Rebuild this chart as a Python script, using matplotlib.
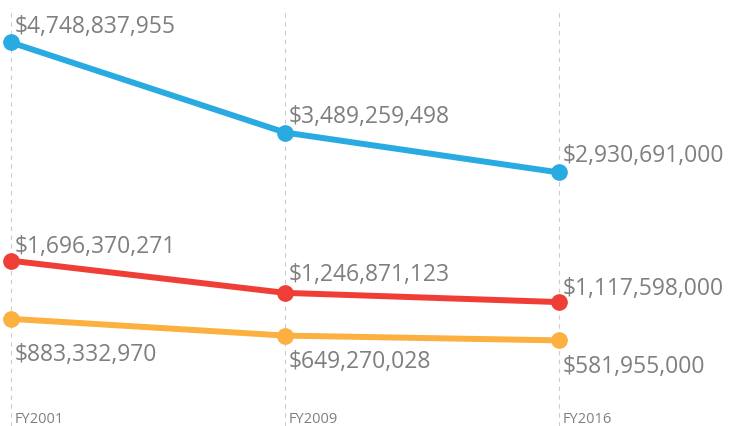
import matplotlib
matplotlib.use("Agg")
import matplotlib.pyplot as plt

years = ["FY2001", "FY2009", "FY2016"]
blue_vals = [4748837955, 3489259498, 2930691000]
red_vals = [1696370271, 1246871123, 1117598000]
orange_vals = [883332970, 649270028, 581955000]

colors = {"blue": "#29ABE2", "red": "#EF3E36", "orange": "#FBB040"}
text_color = "#7F7F7F"

plt.rcParams['font.family'] = ['Open Sans', 'DejaVu Sans']

fig = plt.figure(figsize=(7.32, 4.27), dpi=100)
ax = fig.add_axes([0, 0, 1, 1])
x = list(range(len(years)))

ppu_x = 274.0
ax.set_xlim(-11 / ppu_x, (732 - 11) / ppu_x)
ppb = 71.5  # px per billion
ax.set_ylim((383 - 427) / ppb * 1e9, 383 / ppb * 1e9)

for xi in x:
    ax.axvline(xi, ymin=0, ymax=0.98, color="#CCCCCC", lw=0.8, ls=(0, (4, 4)), zorder=0)

def px2pt(p):
    return p * 72 / 100

series = [(blue_vals, colors["blue"], [16, 17, 17]),
          (red_vals, colors["red"], [15, 19, 14]),
          (orange_vals, colors["orange"], [-35, -25, -26])]
for vals, c, offs in series:
    ax.plot(x, vals, color=c, lw=4.3, marker="o", ms=11, solid_capstyle="round", zorder=3)
    for xi, v, o in zip(x, vals, offs):
        ax.annotate(f"${v:,.0f}", (xi, v), xytext=(px2pt(4), px2pt(o)),
                    textcoords="offset points", ha="left", va="center",
                    fontsize=16.5, color=text_color, zorder=4)

for xi, lab in zip(x, years):
    ax.annotate(lab, (xi, 0), xycoords=("data", "axes fraction"),
                xytext=(px2pt(4), px2pt(0)), textcoords="offset points",
                ha="left", va="bottom", fontsize=10.5, color=text_color)

ax.axis("off")
fig.savefig("out.png", dpi=100)
